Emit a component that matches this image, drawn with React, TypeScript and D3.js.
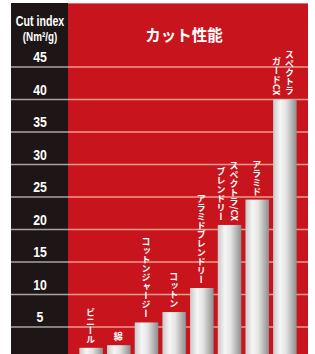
import * as d3 from "d3";

const W = 315;
const H = 354;

// Cut index per glove material
const materials = [
  "ビニール",
  "綿",
  "コットンジャージー",
  "コットン",
  "アラミドブレンドリー",
  "スペクトラ/CX ブレンドリー",
  "アラミド",
  "スペクトラ ガードCX",
];
const cutIndex = [1.8, 2.2, 5.7, 7.3, 11, 20.7, 24.6, 40];
const yTicks = [5, 10, 15, 20, 25, 30, 35, 40, 45];
const title = "カット性能";
const axisTitle = ["Cut index", "(Nm²/g)"];

const frame = { left: 11, axisRight: 68, right: 308, top: 3 };

const jp = "'Noto Sans CJK JP', 'Noto Sans', sans-serif";
const sans = "'Liberation Sans', Arial, sans-serif";

export default function App() {
  const y = d3.scaleLinear().domain([0, 45]).range([359.5, 67]);
  const x = d3
    .scaleBand<string>()
    .domain(materials)
    .range([frame.axisRight, frame.right])
    .paddingInner(0.15)
    .paddingOuter(0.41);

  const axisX = (frame.left + frame.axisRight) / 2 + 0.5;

  return (
    <svg
      width={W}
      height={H}
      style={{ position: "absolute", left: 0, top: 0, display: "block" }}
    >
      <defs>
        <linearGradient id="barGrad" x1="0" x2="1" y1="0" y2="0">
          <stop offset="0%" stopColor="#c9c9c9" />
          <stop offset="30%" stopColor="#f6f6f6" />
          <stop offset="55%" stopColor="#e4e4e4" />
          <stop offset="100%" stopColor="#8e8e8e" />
        </linearGradient>
      </defs>
      <rect width={W} height={H} fill="#fff" />

      {/* axis column + plot background */}
      <rect
        x={frame.left}
        y={frame.top}
        width={frame.axisRight - frame.left}
        height={H - frame.top}
        fill="#1e1616"
      />
      <rect
        x={frame.axisRight}
        y={frame.top}
        width={frame.right - frame.axisRight}
        height={H - frame.top}
        fill="#c8141c"
      />
      <line
        x1={frame.axisRight}
        x2={frame.right}
        y1={frame.top + 0.5}
        y2={frame.top + 0.5}
        stroke="#e06a6a"
        strokeWidth={1}
      />

      {/* grid lines */}
      {yTicks.map((t) => (
        <g key={t}>
          <line
            x1={frame.left}
            x2={frame.axisRight}
            y1={y(t)}
            y2={y(t)}
            stroke="#a8a4a4"
            strokeWidth={1.6}
          />
          <line
            x1={frame.axisRight}
            x2={frame.right}
            y1={y(t)}
            y2={y(t)}
            stroke="#f29a8e"
            strokeWidth={1.6}
          />
          <text
            transform={`translate(${axisX},${y(t) - 5}) scale(0.82,1)`}
            textAnchor="middle"
            fill="#fff"
            fontFamily={sans}
            fontWeight="bold"
            fontSize={15}
          >
            {t}
          </text>
        </g>
      ))}

      {/* axis title */}
      {axisTitle.map((s, i) => (
        <text
          key={s}
          transform={`translate(${axisX},${25.5 + i * 15}) scale(0.76,1)`}
          textAnchor="middle"
          fill="#fff"
          fontFamily={sans}
          fontWeight="bold"
          fontSize={i === 0 ? 14 : 13}
        >
          {s}
        </text>
      ))}

      <text
        x={184}
        y={40.5}
        textAnchor="middle"
        fill="#fff"
        fontFamily={jp}
        fontWeight="bold"
        fontSize={15.5}
      >
        {title}
      </text>

      {/* bars */}
      {materials.map((m, i) => (
        <rect
          key={m}
          x={x(m)}
          y={y(cutIndex[i])}
          width={x.bandwidth()}
          height={y(0) - y(cutIndex[i])}
          fill="url(#barGrad)"
        />
      ))}

      {/* vertical labels, columns read right to left */}
      {materials.map((m, i) => {
        const cols = m.split(" ");
        const cx = (x(m) ?? 0) + x.bandwidth() / 2;
        const offs = cols.length === 1 ? [-0.5] : [4.5, -8.5];
        return cols.map((c, j) => (
          <text
            key={m + j}
            x={cx + offs[j]}
            y={y(cutIndex[i]) - 4}
            textAnchor="end"
            fill="#fff"
            fontFamily={jp}
            fontWeight="bold"
            fontSize={9}
            style={{ writingMode: "vertical-rl" }}
          >
            {c}
          </text>
        ));
      })}
    </svg>
  );
}
